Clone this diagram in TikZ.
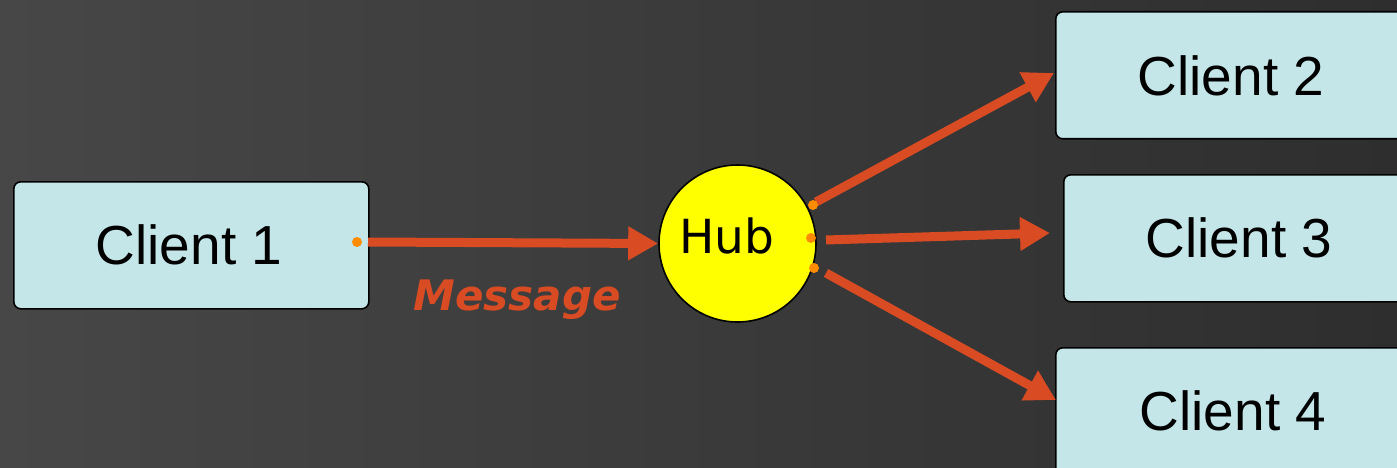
\documentclass[tikz,border=0pt]{standalone}
\usepackage{fontspec}
\setmainfont{Liberation Sans}
\newfontfamily\verd{DejaVu Sans}
\usetikzlibrary{arrows.meta}
\definecolor{boxfill}{HTML}{C4E6E8}
\definecolor{arr}{HTML}{D84B23}
\definecolor{dotc}{HTML}{FF8C00}
\definecolor{bgL}{HTML}{474747}
\definecolor{bgR}{HTML}{2E2E2E}
\definecolor{hubc}{HTML}{FFFF00}
\tikzset{
  client/.style={draw=black, line width=1.6pt, fill=boxfill, rounded corners=7pt,
    minimum height=127pt, inner sep=0pt, font=\fontsize{54}{60}\selectfont},
  conn/.style={draw=arr, line width=9pt, -{Triangle[length=30pt,width=32pt]}},
  odot/.style={fill=dotc, draw=none},
}
\begin{document}
\begin{tikzpicture}[x=1pt,y=-1pt]
\useasboundingbox (0,0) rectangle (1397,468);
\clip (0,0) rectangle (1397,468);
\shade[left color=bgL, right color=bgR] (0,0) rectangle (1397,468);
% nodes
\node[client, minimum width=355pt, anchor=north west] (c1) at (13,181) {};
\node at (189,245) {\fontsize{55}{60}\selectfont Client 1};
\node[client, minimum width=380pt, anchor=north west] (c2) at (1055,11) {};
\node at (1231,76) {\fontsize{55}{60}\selectfont Client 2};
\node[client, minimum width=380pt, anchor=north west] (c3) at (1063,174) {};
\node at (1239,238) {\fontsize{55}{60}\selectfont Client 3};
\node[client, minimum width=380pt, anchor=north west] (c4) at (1055,347) {};
\node at (1233,411) {\fontsize{55}{60}\selectfont Client 4};
\node[circle, draw=black, line width=1.6pt, fill=hubc, minimum size=157pt, inner sep=0pt] (hub) at (737.5,243.5) {};
\node at (727,236) {\verd\fontsize{47}{50}\selectfont Hub};
\node[text=arr] (msg) at (517,300) {\verd\bfseries\itshape\fontsize{42}{46}\selectfont Message};
% connector endpoints
\coordinate (s1) at (368,242);
\coordinate (s2) at (816,202);
\coordinate (s3) at (826,240);
\coordinate (s4) at (826,273);
\coordinate (t2) at (1054,73);
\coordinate (t3) at (1050,233);
\coordinate (t4) at (1056,400);
% connectors
\draw[conn] (s1) -- (hub.west);
\draw[conn] (s2) -- (t2);
\draw[conn] (s3) -- (t3);
\draw[conn] (s4) -- (t4);
% dots
\fill[odot] (357,242) circle (5pt);
\fill[odot] (813,205) circle (5pt);
\fill[odot] (811,238) circle (5pt);
\fill[odot] (814,268) circle (5pt);
\end{tikzpicture}
\end{document}
